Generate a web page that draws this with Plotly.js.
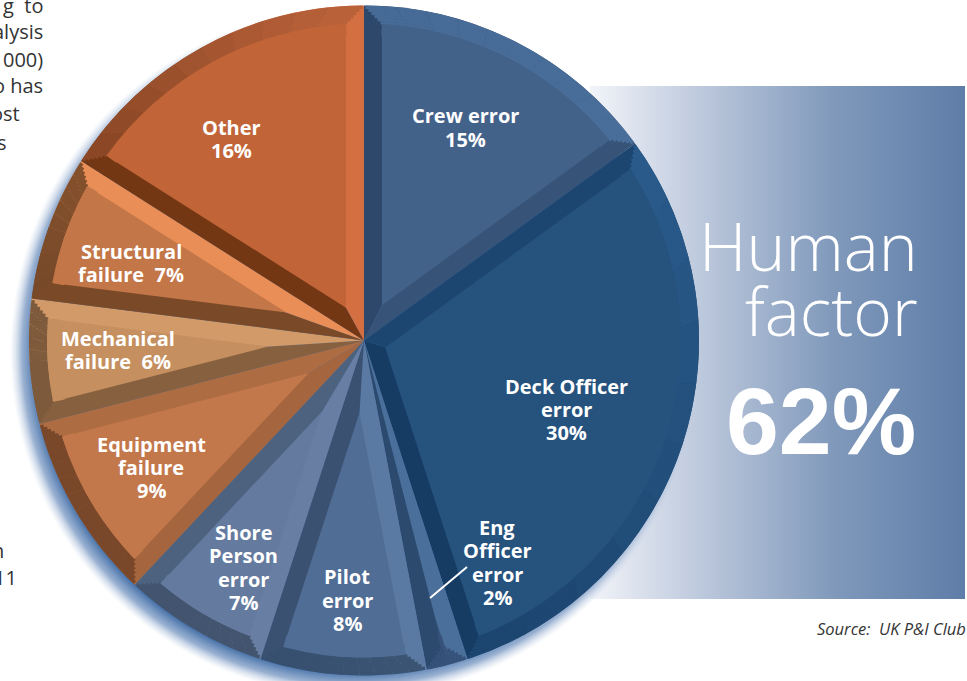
<!DOCTYPE html>
<html><head><meta charset="utf-8">
<script src="https://cdn.plot.ly/plotly-3.0.1.min.js"></script>
<style>html,body{margin:0;padding:0;background:#fff;overflow:hidden}</style>
</head><body><div id="chart" style="width:967px;height:681px"></div>
<script>
const categories = ["Crew error","Deck Officer error","Eng Officer error","Pilot error","Shore Person error","Equipment failure","Mechanical failure","Structural failure","Other"];
const shares = [15,30,2,8,7,9,6,7,16];
const faceColors  = ["#436289","#26527e","#36527a","#4f6d95","#647b9f","#c3784b","#c58f5f","#c37647","#c16539"];
const startColors = ["#2e486c","#1c4670","#4a6f9a","#5a7aa3","#687fa3","#a5653e","#87613f","#7a4a28","#743713"];
const endColors   = ["#375478","#163c64","#2c4a6d","#3a5172","#4c627f","#ae6c43","#d19a68","#e98e57","#d36f41"];
const rimStart    = ["#476b97","#2a5a8a","#36527a","#3c5474","#43546f","#79472a","#7e5a3c","#784a2a","#8c4826"];
const rimEnd      = ["#4a6e9a","#1c4670","#36527a","#38506f","#43546f","#79472a","#7e5a3c","#83502c","#b9623a"];
const labelLines = [["Crew error","15%"],["Deck Officer","error","30%"],["Eng","Officer","error","2%"],["Pilot","error","8%"],["Shore","Person","error","7%"],["Equipment","failure","9%"],["Mechanical","failure  6%"],["Structural","failure  7%"],["Other","16%"]];
const labelCentres = [[465,127.5],[566,409.5],[497,562.5],[347,600],[243,567.5],[151,467.5],[118,350],[131,263],[231,139]];
const headline = ["Human","factor","62%"];
const bodyTail = [["g  to",45,6],["alysis",45,31],["000)",45,59],["o has",45,86],["ost",22,114],["s",9,142],["n",6,550],["11",19,577]];
const sourceNote = "Source:  UK P&I Club";

const W=967,H=681,CX=364,CY=340.5,R=335,RIM=18,BAND=18,RIBS=10,RINGS=6;
const dom=(cx,cy,r)=>({x:[(cx-r)/W,(cx+r)/W],y:[1-(cy+r)/H,1-(cy-r)/H]});
const none='rgba(0,0,0,0)';
const base={type:'pie',sort:false,direction:'clockwise',textinfo:'none',hoverinfo:'skip',showlegend:false};
const total=shares.reduce((a,b)=>a+b,0);
const hex=c=>[1,3,5].map(k=>parseInt(c.substr(k,2),16));
const mix=(a,b,t)=>{const A=hex(a),B=hex(b);return 'rgb('+A.map((v,i)=>Math.round(v+(B[i]-v)*t)).join(',')+')';};
const data=[];
// side bevels: each slice split in two halves, out to the full radius
data.push({...base,values:shares.flatMap(v=>[v/2,v/2]),labels:categories.flatMap(c=>[c+" a",c+" b"]),rotation:0,domain:dom(CX,CY,R),
  marker:{colors:shares.flatMap((v,i)=>[startColors[i],endColors[i]]),line:{width:0}}});
let acc=0;
const faces=[],fillers=[];
shares.forEach((v,i)=>{
  const a=acc/total*360, sweep=v/total*360; acc+=v;
  // ribbed rim: thin concentric rings, each narrower, so the corners read as mitres
  for(let q=0;q<RINGS;q++){
    const depthO=RIM*q/RINGS, depthI=RIM*(q+1)/RINGS, inset=BAND*(q+0.5)/RINGS;
    const rO=R-depthO, rI=R-depthI-0.5;
    const gap=inset/((rO+rI)/2)*180/Math.PI;
    const rs=sweep-2*gap;
    if(rs<=0) continue;
    const share=rs/360*total, vals=[],cols=[],labs=[];
    for(let k=0;k<RIBS;k++){vals.push(share/RIBS);cols.push(mix(rimStart[i],rimEnd[i],k/(RIBS-1)));labs.push(categories[i]+" "+k);}
    vals.push(total-share);cols.push(none);labs.push("rest");
    data.push({...base,values:vals,labels:labs,rotation:a+gap,hole:rI/rO,domain:dom(CX,CY,rO),marker:{colors:cols,line:{width:0}}});
  }
  // front face: same wedge moved outward along its bisector
  const half=sweep/2*Math.PI/180, mid=(a+sweep/2)*Math.PI/180;
  const d=BAND/Math.sin(half), r=R-RIM-d;
  const cx=CX+d*Math.sin(mid), cy=CY-d*Math.cos(mid);
  faces.push({...base,values:[v,total-v],labels:[categories[i],"rest"],rotation:a,domain:dom(cx,cy,r),marker:{colors:[faceColors[i],none],line:{width:0}}});
  // concentric strip so the face's outer edge stays parallel to the rim
  const RF=R-RIM, g2=BAND/RF*180/Math.PI, fs=sweep-2*g2;
  if(fs>0){
    const fshare=fs/360*total;
    fillers.push({...base,values:[fshare,total-fshare],labels:[categories[i],"rest"],rotation:a+g2,hole:(RF-12)/RF,domain:dom(CX,CY,RF),marker:{colors:[faceColors[i],none],line:{width:0}}});
  }
});
data.push(...faces,...fillers);

const ann=[];
const txt=(t,x,y,size,extra)=>ann.push(Object.assign({text:t,xref:'paper',yref:'paper',x:x/W,y:1-y/H,showarrow:false,xanchor:'center',yanchor:'middle',
  font:{family:'"Open Sans"',size:size,color:'#fff',weight:700}},extra||{}));
labelLines.forEach((lines,i)=>{
  const [x,y]=labelCentres[i]; const lh=23.2;
  lines.forEach((l,k)=>txt(l.replace(/  /g,'\u00a0\u00a0'),x,y+(k-(lines.length-1)/2)*lh,20));
});
const thin={family:'"Open Sans"',size:66,color:'#fff',weight:300};
txt(headline[0],920,245,66,{xanchor:'right',font:thin});
txt(headline[1],920,310,66,{xanchor:'right',font:thin});
txt(headline[2],918,421,95,{xanchor:'right',font:{family:'"Liberation Sans"',size:95,color:'#fff',weight:700}});
bodyTail.forEach(([t,x,y])=>txt(t.replace(/  /g,'\u00a0\u00a0'),x,y,20,{xanchor:'right',font:{family:'"Open Sans"',size:20,color:'#333',weight:400}}));
txt(sourceNote.replace(/  /g,'\u00a0\u00a0'),968,628,16.5,{xanchor:'right',font:{family:'"Open Sans"',size:16.5,color:'#333',style:'italic',weight:400}});

const svg=s=>'data:image/svg+xml;charset=utf-8,'+encodeURIComponent(s);
const rectImg=svg('<svg xmlns="http://www.w3.org/2000/svg" width="375" height="514" preserveAspectRatio="none"><defs><linearGradient id="g" x1="0" x2="1" y1="0" y2="0"><stop offset="0" stop-color="#f2f4f9"/><stop offset="0.3" stop-color="#bcc8dc"/><stop offset="0.65" stop-color="#8099bb"/><stop offset="1" stop-color="#5e7da8"/></linearGradient></defs><rect width="375" height="514" fill="url(#g)"/></svg>');
const glowImg=svg('<svg xmlns="http://www.w3.org/2000/svg" width="690" height="690"><defs><radialGradient id="g"><stop offset="0.93" stop-color="#4a74aa"/><stop offset="0.965" stop-color="#87a3c9" stop-opacity="0.85"/><stop offset="1" stop-color="#c8d5e8" stop-opacity="0"/></radialGradient></defs><circle cx="345" cy="345" r="345" fill="url(#g)"/></svg>');
const img=(src,x0,y0,x1,y1)=>({source:src,xref:'paper',yref:'paper',x:x0/W,y:1-y0/H,sizex:(x1-x0)/W,sizey:(y1-y0)/H,xanchor:'left',yanchor:'top',sizing:'stretch',layer:'below'});

Plotly.newPlot('chart',data,{
  width:W,height:H,margin:{l:0,r:0,t:0,b:0},paper_bgcolor:'#fff',plot_bgcolor:'rgba(0,0,0,0)',showlegend:false,
  images:[img(rectImg,590,86,965,599),img(glowImg,10,7,700,697)],
  annotations:ann,
  shapes:[{type:'line',xref:'paper',yref:'paper',x0:467/W,y0:1-567/H,x1:430/W,y1:1-598/H,line:{color:'#fff',width:2}}]
},{displayModeBar:false,staticPlot:true});
</script></body></html>
